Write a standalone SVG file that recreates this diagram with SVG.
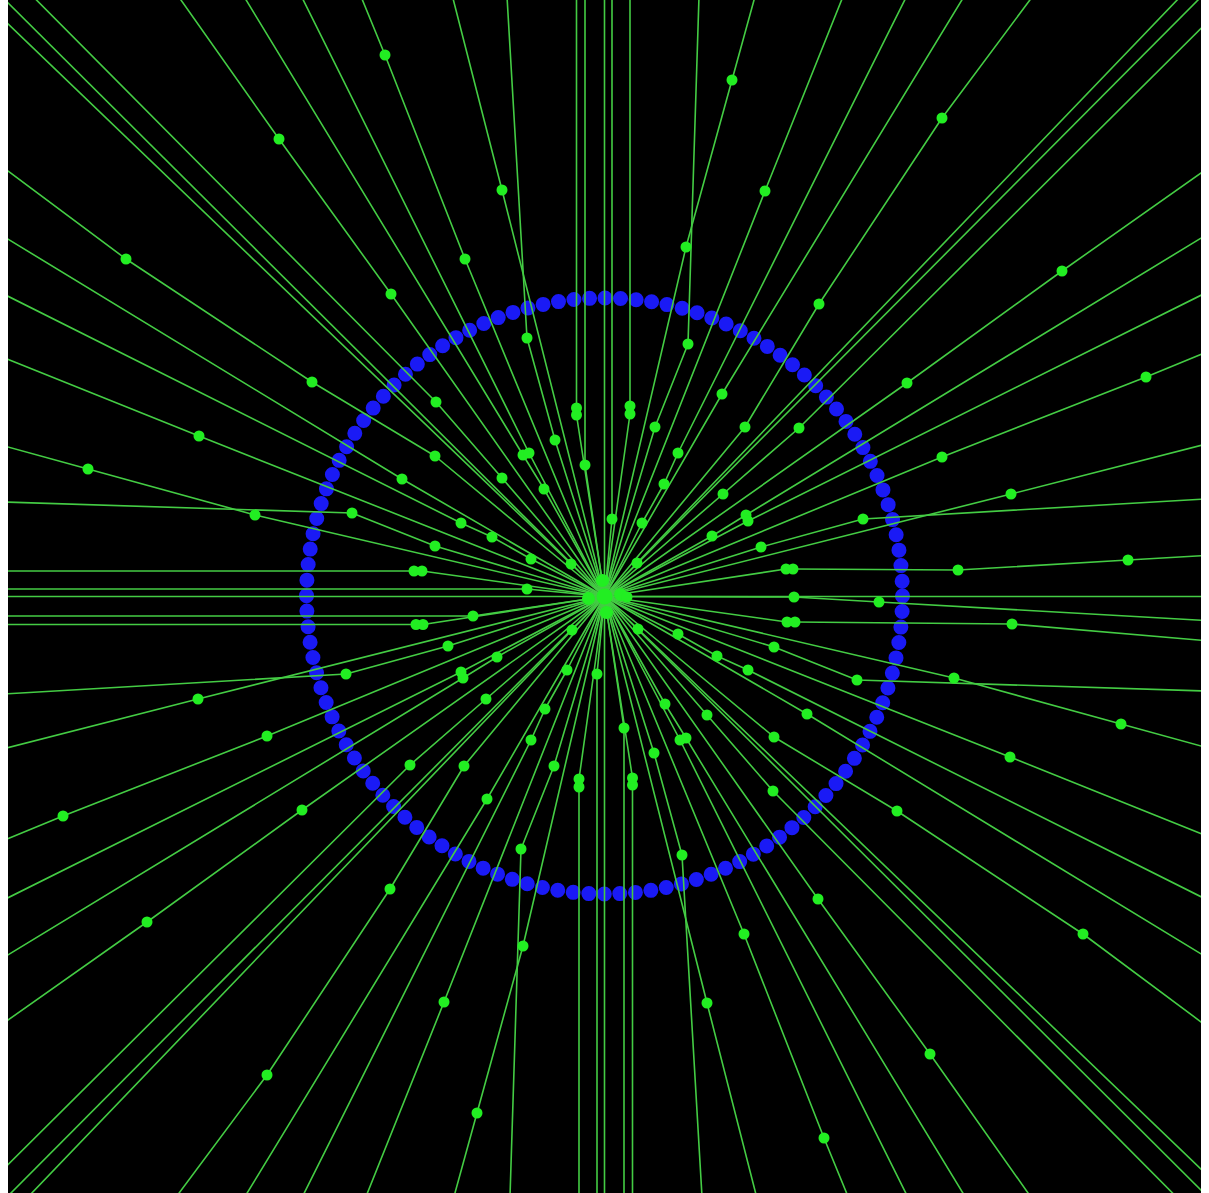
<svg xmlns="http://www.w3.org/2000/svg" width="1209" height="1193" viewBox="0 0 1209 1193">
<style>
.ln{fill:none;stroke:#44cc44;stroke-width:1.6;stroke-linejoin:round}
.dt{fill:#22ee22}
</style>
<defs>
<clipPath id="sq"><rect x="8" y="0" width="1193" height="1193"/></clipPath>
<g id="secLines">
<polyline class="ln" points="-571.5,-600 -168.5,-194.5 -102.5,-118.5 0,0"/>
<polyline class="ln" points="-426,-600 -325.5,-457.5 -213.5,-302.5 0,0"/>
<polyline class="ln" points="-360.5,-600 -81.5,-141.5 -60.5,-107.5 0,0"/>
<polyline class="ln" points="-303,-600 -75.5,-143.5 0,0"/>
<polyline class="ln" points="-243.5,-600 -219.5,-541.5 -139.5,-337.5 0,0"/>
<polyline class="ln" points="-152,-600 -102.5,-406.5 0,0"/>
<polyline class="ln" points="-97.5,-600 -77.5,-258.5 -49.5,-156.5 0,0"/>
<polyline class="ln" points="0,-600 0,0"/>
<polyline class="ln" points="94.5,-600 83.5,-252.5 50.5,-169.5 0,0"/>
<polyline class="ln" points="150.5,-600 127.5,-516.5 81.5,-349.5 0,0"/>
<polyline class="ln" points="238.5,-600 160.5,-405.5 0,0"/>
<polyline class="ln" points="302,-600 73.5,-143.5 59.5,-112.5 37.5,-73.5 0,0"/>
<polyline class="ln" points="359.5,-600 117.5,-202.5 0,0"/>
<polyline class="ln" points="428,-600 337.5,-478.5 214.5,-292.5 140.5,-169.5 0,0"/>
<polyline class="ln" points="576,-600 32.5,-33.5 0,0"/>
<polyline class="ln" points="597,-600 0,0"/>
</g>
<g id="axisLines">
<polyline class="ln" points="-28,-600 -28,-188.5 -28,-181.5 0,0"/>
<polyline class="ln" points="-19.5,-600 -19.5,-131.5 0,0"/>
<polyline class="ln" points="7.5,-600 7.5,-77.5 0,0"/>
<polyline class="ln" points="25.5,-600 25.5,-190.5 25.5,-182.5 0,0"/>
</g>
<g id="secDots">
<circle class="dt" cx="-325.5" cy="-457.5" r="5.5"/>
<circle class="dt" cx="337.5" cy="-478.5" r="5.5"/>
<circle class="dt" cx="-219.5" cy="-541.5" r="5.5"/>
<circle class="dt" cx="127.5" cy="-516.5" r="5.5"/>
<circle class="dt" cx="-102.5" cy="-406.5" r="5.5"/>
<circle class="dt" cx="160.5" cy="-405.5" r="5.5"/>
<circle class="dt" cx="81.5" cy="-349.5" r="5.5"/>
<circle class="dt" cx="-139.5" cy="-337.5" r="5.5"/>
<circle class="dt" cx="-213.5" cy="-302.5" r="5.5"/>
<circle class="dt" cx="214.5" cy="-292.5" r="5.5"/>
<circle class="dt" cx="-77.5" cy="-258.5" r="5.5"/>
<circle class="dt" cx="83.5" cy="-252.5" r="5.5"/>
<circle class="dt" cx="117.5" cy="-202.5" r="5.5"/>
<circle class="dt" cx="-168.5" cy="-194.5" r="5.5"/>
<circle class="dt" cx="50.5" cy="-169.5" r="5.5"/>
<circle class="dt" cx="140.5" cy="-169.5" r="5.5"/>
<circle class="dt" cx="-49.5" cy="-156.5" r="5.5"/>
<circle class="dt" cx="-81.5" cy="-141.5" r="5.5"/>
<circle class="dt" cx="-75.5" cy="-143.5" r="5.5"/>
<circle class="dt" cx="73.5" cy="-143.5" r="5.5"/>
<circle class="dt" cx="-102.5" cy="-118.5" r="5.5"/>
<circle class="dt" cx="-60.5" cy="-107.5" r="5.5"/>
<circle class="dt" cx="59.5" cy="-112.5" r="5.5"/>
<circle class="dt" cx="37.5" cy="-73.5" r="5.5"/>
<circle class="dt" cx="32.5" cy="-33.5" r="5.5"/>
<circle class="dt" cx="-2" cy="-16" r="6.5"/>
</g>
<g id="axisDots">
<circle class="dt" cx="-28" cy="-188.5" r="5.5"/>
<circle class="dt" cx="-28" cy="-181.5" r="5.5"/>
<circle class="dt" cx="-19.5" cy="-131.5" r="5.5"/>
<circle class="dt" cx="7.5" cy="-77.5" r="5.5"/>
<circle class="dt" cx="25.5" cy="-190.5" r="5.5"/>
<circle class="dt" cx="25.5" cy="-182.5" r="5.5"/>
</g>
</defs>
<rect x="0" y="0" width="1209" height="1193" fill="#ffffff"/>
<rect x="8" y="0" width="1193" height="1193" fill="#000000"/>
<g id="ring">
<circle cx="604.5" cy="596" r="298" fill="none" stroke="#1a1af5" stroke-width="15" stroke-linecap="round" stroke-dasharray="0 15.603"/>
</g>
<g clip-path="url(#sq)">
<g id="connectors" transform="translate(604.5 596.5)">
<use href="#secLines"/>
<use href="#secLines" transform="rotate(90)"/>
<use href="#secLines" transform="rotate(180)"/>
<use href="#secLines" transform="rotate(270)"/>
<use href="#axisLines"/>
<use href="#axisLines" transform="rotate(180)"/>
<use href="#axisLines" transform="rotate(270)"/>
<polyline class="ln" points="0,0 181.5,-27.5 188.5,-27.5 353.5,-26.5 523.5,-36.5 600,-41"/>
<polyline class="ln" points="0,0 182.5,25.5 190.5,25.5 407.5,27.5 600,44"/>
<polyline class="ln" points="0,0 189.5,0.5 274.5,5.5 600,24"/>
</g>
<g id="nodes" transform="translate(604.5 596.5)">
<use href="#secDots"/>
<use href="#secDots" transform="rotate(90)"/>
<use href="#secDots" transform="rotate(180)"/>
<use href="#secDots" transform="rotate(270)"/>
<use href="#axisDots"/>
<use href="#axisDots" transform="rotate(180)"/>
<use href="#axisDots" transform="rotate(270)"/>
<circle class="dt" cx="181.5" cy="-27.5" r="5.5"/>
<circle class="dt" cx="188.5" cy="-27.5" r="5.5"/>
<circle class="dt" cx="353.5" cy="-26.5" r="5.5"/>
<circle class="dt" cx="523.5" cy="-36.5" r="5.5"/>
<circle class="dt" cx="182.5" cy="25.5" r="5.5"/>
<circle class="dt" cx="190.5" cy="25.5" r="5.5"/>
<circle class="dt" cx="407.5" cy="27.5" r="5.5"/>
<circle class="dt" cx="189.5" cy="0.5" r="5.5"/>
<circle class="dt" cx="274.5" cy="5.5" r="5.5"/>
<circle class="dt" cx="22.5" cy="0.5" r="5.5"/>
<circle class="dt" cx="0" cy="0" r="8"/>
</g>
</g>
</svg>
